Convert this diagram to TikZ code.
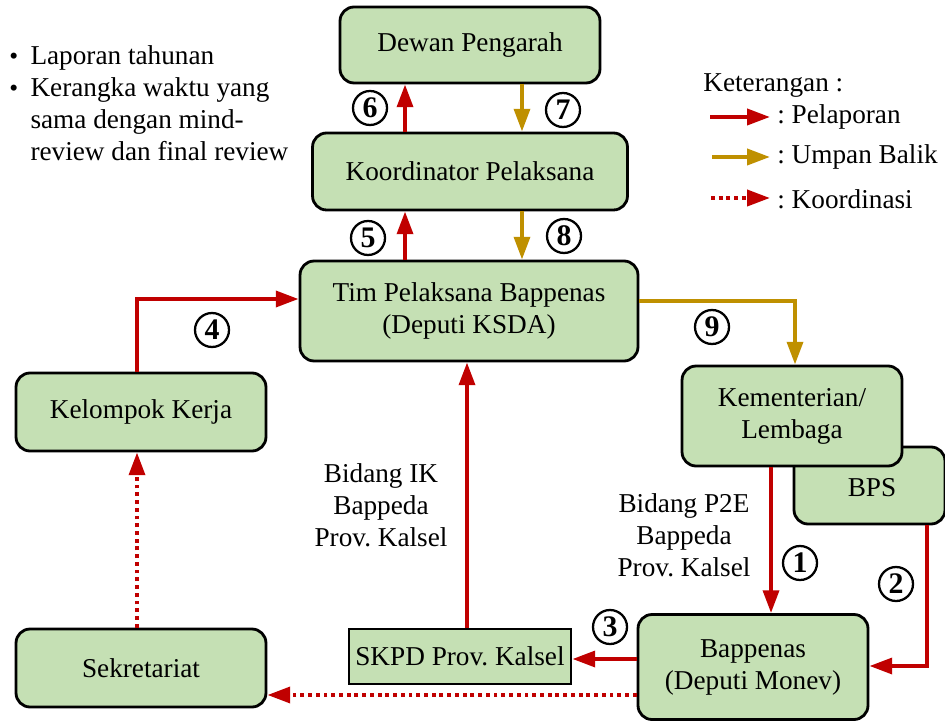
\documentclass[tikz,border=0pt]{standalone}
\usepackage{fontspec}
\setmainfont{Liberation Serif}
\usetikzlibrary{arrows.meta,calc,positioning}
\definecolor{cred}{HTML}{C00000}
\definecolor{cgold}{HTML}{BF9000}
\definecolor{cbox}{HTML}{C5E0B4}
\frenchspacing

\begin{document}
\begin{tikzpicture}[
    x=0.02cm, y=-0.02cm,
    font=\fontsize{15.5}{18.2}\selectfont,
    lapor/.style={-{Triangle[length=13pt, width=9pt]}, line width=2.3pt, draw=cred},
    balik/.style={-{Triangle[length=13pt, width=9pt]}, line width=2.3pt, draw=cgold},
    koord/.style={-{Triangle[length=13pt, width=9pt]}, line width=2.3pt, draw=cred,
                  dash pattern=on 2.2pt off 2.2pt},
    box/.style={draw=black, line width=1.6pt, fill=cbox, rounded corners=0.28cm,
                align=center, inner sep=2pt},
    num/.style={draw=black, line width=1.3pt, circle, fill=white, inner sep=0pt,
                minimum size=0.68cm, font=\fontsize{17}{17}\selectfont\bfseries},
    lbl/.style={align=center},
  ]
  \path[use as bounding box] (0,0) rectangle (945,722);
  % == boxes
  \node[box, minimum width=5.2cm, minimum height=1.52cm] (dewan) at (470,45) {Dewan Pengarah};
  \node[box, minimum width=6.3cm, minimum height=1.54cm] (koor) at (470,171.5) {Koordinator Pelaksana};
  \node[box, minimum width=6.76cm, minimum height=2.0cm] (tim) at (469,311)
    {Tim Pelaksana Bappenas\\(Deputi KSDA)};
  \node[box, minimum width=5.0cm, minimum height=1.56cm] (kel) at (141,412) {Kelompok Kerja};
  \node[box, minimum width=5.0cm, minimum height=1.56cm] (sek) at (141,668) {Sekretariat};
  \node[box, rounded corners=0pt, minimum width=4.44cm, minimum height=1.1cm] (skpd) at (460,656.5)
    {SKPD Prov. Kalsel};
  \node[box, minimum width=3.02cm, minimum height=1.54cm, text depth=0pt] (bps) at (869.5,485.5) {};
  \node at (872,488) {BPS};
  \node[box, minimum width=4.4cm, minimum height=2.0cm] (kem) at (792,416) {Kementerian/\\Lembaga};
  \node[box, minimum width=4.6cm, minimum height=2.1cm] (bap) at (753,667)
    {Bappenas\\(Deputi Monev)};
  % == reporting and feedback up the chain
  \coordinate (up) at ([xshift=-1.3cm]koor.north);
  \coordinate (down) at ([xshift=1.04cm]koor.north);
  \draw[lapor] (up) -- (up |- dewan.south);
  \draw[balik] (down |- dewan.south) -- (down);
  \draw[lapor] (up |- tim.north) -- (up |- koor.south);
  \draw[balik] (down |- koor.south) -- (down |- tim.north);
  \node[num] (n6) at (370,108) {6};
  \node[num] (n7) at (563,110) {7};
  \node[num] (n5) at (368,238) {5};
  \node[num] (n8) at (564,236) {8};
  % == working group and secretariat
  \draw[lapor] ([xshift=-0.08cm]kel.north) |- ([yshift=0.24cm]tim.west);
  \node[num] (n4) at (212,330) {4};
  \draw[koord] ([xshift=-0.08cm]sek.north) -- ([xshift=-0.08cm]kel.south);
  % == Tim to Kementerian
  \draw[balik] ([yshift=0.2cm]tim.east) -| ([xshift=0.06cm]kem.north);
  \node[num] (n9) at (712,327) {9};
  % == SKPD up to Tim
  \coordinate (s0) at ([xshift=0.14cm]skpd.north);
  \draw[lapor] (s0) -- (s0 |- tim.south);
  \node[lbl] (ik) at (381,505) {Bidang IK\\Bappeda\\Prov. Kalsel};
  % == into Bappenas
  \coordinate (k1) at ([xshift=-0.42cm]kem.south);
  \draw[lapor] (k1) -- (k1 |- bap.north);
  \node[num] (n1) at (800,563) {1};
  \node[lbl] (p2e) at (684,535) {Bidang P2E\\Bappeda\\Prov. Kalsel};
  \draw[lapor] ([xshift=1.15cm]bps.south) |- ([yshift=0.02cm]bap.east);
  \node[num] (n2) at (896,584) {2};
  % == out of Bappenas
  \coordinate (b3) at ([yshift=0.16cm]bap.west);
  \draw[lapor] (b3) -- (b3 -| skpd.east);
  \node[num] (n3) at (610,627) {3};
  \coordinate (b4) at ([yshift=-0.56cm]bap.west);
  \draw[koord] (b4) -- (b4 -| sek.east);
  % == notes
  \node[anchor=north west, inner sep=0pt] (catatan) at (9,42)
    {\begin{tabular}{@{}l@{\hspace{7pt}}l@{}}
       {\Large\textbullet} & Laporan tahunan\\
       {\Large\textbullet} & Kerangka waktu yang\\
                   & sama dengan mind-\\
                   & review dan final review
     \end{tabular}};
  % == legend
  \node[anchor=west, inner sep=0pt] (ket) at (703,86) {Keterangan :};
  \node[anchor=west, inner sep=0pt] (t1) at (777,117) {: Pelaporan};
  \node[anchor=west, inner sep=0pt] (t2) at (777,157) {: Umpan Balik};
  \node[anchor=west, inner sep=0pt] (t3) at (777,199) {: Koordinasi};
  \coordinate (a1) at (710,117);
  \coordinate (a2) at (712,157);
  \coordinate (a3) at (711,198);
  \draw[lapor] (a1) -- ([xshift=-0.14cm]a1 -| t1.west);
  \draw[balik] (a2) -- ([xshift=-0.14cm]a2 -| t2.west);
  \draw[koord] (a3) -- ([xshift=-0.14cm]a3 -| t3.west);
\end{tikzpicture}
\end{document}
